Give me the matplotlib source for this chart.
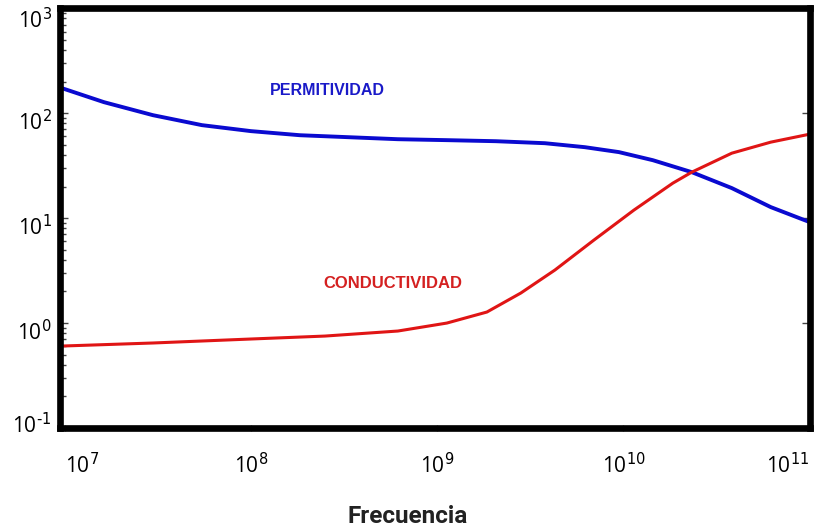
import numpy as np
import matplotlib
matplotlib.use("Agg")
import matplotlib.pyplot as plt
import matplotlib.transforms as mtransforms
from matplotlib.ticker import LogLocator, NullFormatter, NullLocator

plt.rcParams['font.family'] = ['Open Sans', 'DejaVu Sans']
plt.rcParams['axes.unicode_minus'] = False

# log10 of frequency (Hz) and log10 of value
perm_logf = [6.986, 7.211, 7.474, 7.737, 8.000, 8.263, 8.526, 8.789, 9.052,
             9.315, 9.578, 9.793, 9.976, 10.158, 10.367, 10.582, 10.791, 11.0]
perm_logv = [2.238, 2.105, 1.981, 1.886, 1.829, 1.790, 1.771, 1.752, 1.743,
             1.733, 1.714, 1.676, 1.629, 1.552, 1.438, 1.286, 1.105, 0.962]

cond_logf = [6.986, 7.474, 8.000, 8.397, 8.789, 9.052, 9.267, 9.449,
             9.632, 9.841, 10.056, 10.265, 10.367, 10.582, 10.791, 11.0]
cond_logv = [-0.219, -0.190, -0.152, -0.124, -0.076, 0.0, 0.105, 0.286,
             0.505, 0.790, 1.076, 1.333, 1.438, 1.619, 1.724, 1.800]

x_exps = [7, 8, 9, 10, 11]
y_exps = [-1, 0, 1, 2, 3]

perm_f = 10 ** np.array(perm_logf)
perm_v = 10 ** np.array(perm_logv)
cond_f = 10 ** np.array(cond_logf)
cond_v = 10 ** np.array(cond_logv)


def pow_label(e):
    return r"$\mathdefault{10^{\text{%d}}}$" % e


fig = plt.figure(figsize=(8.22, 5.32), dpi=100)
ax = fig.add_axes([0.073, 0.1955, 0.912, 0.789])

ax.plot(perm_f, perm_v, color="#0a0ad0", linewidth=2.8, solid_capstyle="round")
ax.plot(cond_f, cond_v, color="#e01515", linewidth=2.2, solid_capstyle="round")

ax.set_xscale("log")
ax.set_yscale("log")
ax.set_xlim(10 ** 6.975, 10 ** 11.0)

for s in ax.spines.values():
    s.set_linewidth(4.8)

ax.set_xticks([10.0 ** e for e in x_exps])
ax.set_xticklabels([pow_label(e) for e in x_exps])
ax.xaxis.set_minor_locator(NullLocator())
ax.set_yticks([10.0 ** e for e in y_exps])
ax.set_yticklabels([pow_label(e) for e in y_exps])
ax.yaxis.set_minor_locator(LogLocator(base=10, subs=np.arange(2, 10), numticks=10))
ax.yaxis.set_minor_formatter(NullFormatter())
ax.set_ylim(0.1, 1000)

ax.tick_params(axis="y", which="major", direction="in", length=6, width=1,
               left=True, right=True, labelsize=15, pad=6, color="#444444")
ax.tick_params(axis="y", which="minor", direction="in", length=4, width=1,
               left=True, right=False, color="#444444")
ax.tick_params(axis="x", which="major", direction="inout", length=4, width=1,
               labelsize=15, pad=16, color="#666666")

xl = ax.get_xticklabels()
xl[0].set_horizontalalignment("left")
xl[-1].set_horizontalalignment("right")

# y labels sit a little below their ticks in the reference
y_shift = [5, -7, -7, -7, -10]
for lab, dy in zip(ax.get_yticklabels(), y_shift):
    lab.set_transform(lab.get_transform() +
                      mtransforms.ScaledTranslation(0, dy / 100, fig.dpi_scale_trans))

ax.text(10 ** 8.10, 10 ** 2.22, "PERMITIVIDAD", color="#1a1ac8",
        fontsize=11.5, fontweight="bold", family=["Liberation Sans", "DejaVu Sans"],
        va="center", ha="left")
ax.text(10 ** 8.387, 10 ** 0.38, "CONDUCTIVIDAD", color="#d42020",
        fontsize=12, fontweight="bold", family=["Liberation Sans", "DejaVu Sans"],
        va="center", ha="left")

fig.text(0.496, 0.03, "Frecuencia", fontsize=17.5, fontweight="bold",
         family=["Liberation Sans Narrow", "Roboto", "DejaVu Sans"],
         ha="center", va="center", color="#222222")

fig.savefig("out.png", dpi=100)
